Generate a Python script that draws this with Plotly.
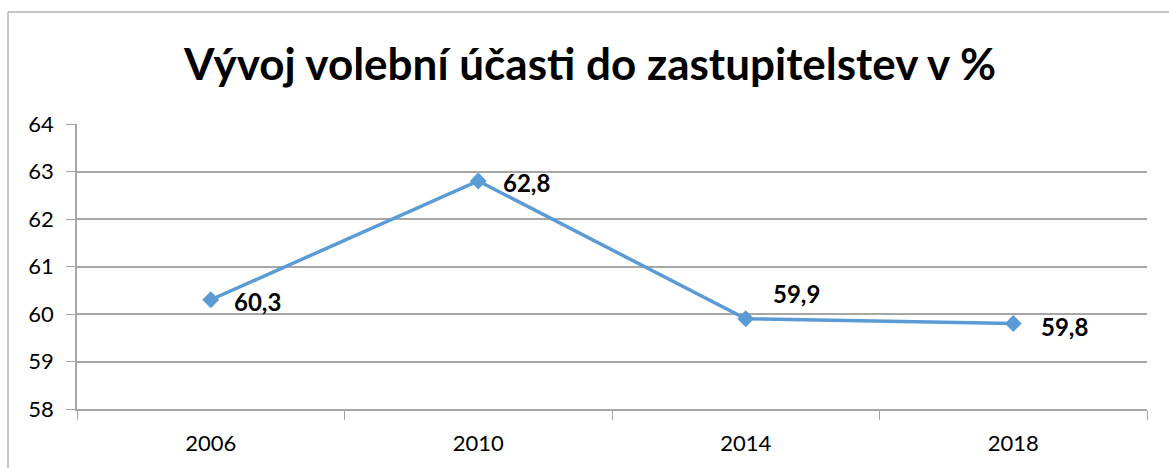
import plotly.graph_objects as go

years = ["2006", "2010", "2014", "2018"]
turnout = [60.3, 62.8, 59.9, 59.8]
# per-point label offsets (pixels) for the value labels
label_dx = [21, 23, 25, 26]
label_dy = [-2, -1, 25, -3]

W, H = 1169, 468
L, R, T, B = 77, 22, 124, 59
pw, ph = W - L - R, H - T - B

font_family = "Lato, 'Open Sans', sans-serif"
line_col = "#5B9BD5"
grid_col = "#A6A6A6"

fig = go.Figure()
fig.add_trace(go.Scatter(
    x=years, y=turnout, mode="lines+markers",
    line=dict(color=line_col, width=3.5),
    marker=dict(symbol="diamond", size=13, color=line_col),
    hoverinfo="skip", showlegend=False,
))

for i, (v, dx, dy) in enumerate(zip(turnout, label_dx, label_dy)):
    fig.add_annotation(
        x=i, y=v, xref="x", yref="y",
        text="<b>" + f"{v:.1f}".replace(".", ",") + "</b>",
        showarrow=False, xanchor="left", yanchor="middle",
        xshift=dx, yshift=dy,
        font=dict(family=font_family, size=24, color="#000000"),
    )

# outer chart-area frame: only its left and top edges fall inside the page
fx0 = (8 - L) / pw
fy1 = ((H - B) - 12) / ph
frame = dict(color="#8C8C8C", width=1)
fig.add_shape(type="line", xref="paper", yref="paper",
              x0=fx0, x1=fx0, y0=-1, y1=fy1, line=frame, layer="below")
fig.add_shape(type="line", xref="paper", yref="paper",
              x0=fx0, x1=1.2, y0=fy1, y1=fy1, line=frame, layer="below")

fig.update_layout(
    width=W, height=H,
    margin=dict(l=L, r=R, t=T, b=B, pad=0),
    paper_bgcolor="white", plot_bgcolor="white",
    title=dict(
        text="<b>Vývoj volební účasti do zastupitelstev v %</b>",
        x=590 / W, xanchor="center", y=1 - 65 / H, yanchor="middle",
        font=dict(family=font_family, size=44, color="#000000"),
    ),
    xaxis=dict(
        type="category", tickson="boundaries", ticks="outside", ticklen=9,
        tickcolor=grid_col, showline=True, linecolor=grid_col, linewidth=1.5,
        showgrid=False, range=[-0.5, 3.5],
        tickfont=dict(family=font_family, size=22, color="#000000"),
        ticklabelstandoff=14,
    ),
    yaxis=dict(
        range=[58, 64], dtick=1, tick0=58, ticks="outside", ticklen=9,
        tickcolor=grid_col, showline=True, linecolor=grid_col, linewidth=1.5,
        showgrid=True, gridcolor=grid_col, gridwidth=1.5, zeroline=False,
        tickfont=dict(family=font_family, size=22, color="#000000"),
        ticklabelstandoff=8,
    ),
)

fig.write_html("out.html")
